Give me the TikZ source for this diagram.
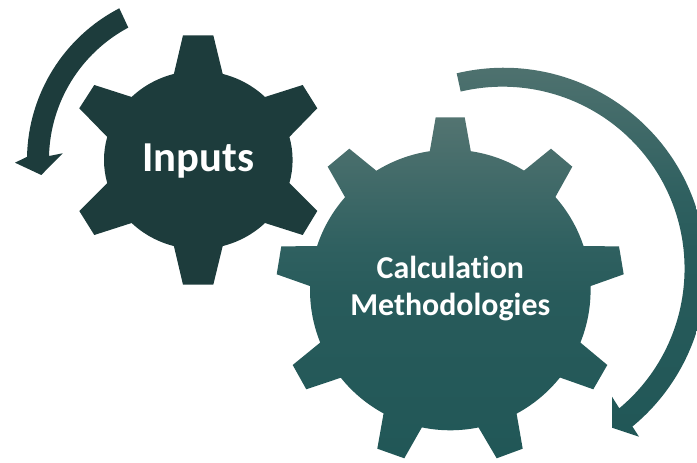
\documentclass[tikz,border=0pt]{standalone}
\usepackage{fontspec}
\setmainfont[RawFeature={-liga;-clig;-dlig}]{Carlito}
\definecolor{gearDark}{HTML}{1D3C3C}
\definecolor{tealA}{RGB}{33,87,87}
\definecolor{tealB}{RGB}{40,91,91}
\definecolor{tealC}{RGB}{47,96,96}
\definecolor{tealD}{RGB}{83,116,113}
\pgfdeclareverticalshading{tealgrad}{100bp}{
  color(0bp)=(tealA);
  color(25bp)=(tealA);
  color(49bp)=(tealB);
  color(56bp)=(tealC);
  color(75bp)=(tealD);
  color(100bp)=(tealD)}
\tikzset{
  darkshape/.style={fill=gearDark,draw=none},
  tealshape/.style={draw=none,shade,shading=tealgrad},
  gearlabel/.style={text=white,font=\bfseries,align=center,inner sep=0pt}
}
\begin{document}
\begin{tikzpicture}[x=0.75pt,y=-0.75pt]
\useasboundingbox (0,0) rectangle (697,463);
\clip (0,0) rectangle (697,463);
% small gear
\begin{scope}[shift={(198.3,160)}]
\fill[darkshape] (-75:94.3 and 89.1)
  arc[start angle=-75,end angle=-45,x radius=94.3,y radius=89.1]
  -- (104.4,-75) -- (119,-51.7) -- (-15:94.3 and 89.1)
  arc[start angle=-15,end angle=15,x radius=94.3,y radius=89.1]
  -- (119,51) -- (104.4,75) -- (45:94.3 and 89.1)
  arc[start angle=45,end angle=75,x radius=94.3,y radius=89.1]
  -- (15,124.7) -- (-15.3,124.7) -- (105:94.3 and 89.1)
  arc[start angle=105,end angle=135,x radius=94.3,y radius=89.1]
  -- (-104,75) -- (-119,51) -- (165:94.3 and 89.1)
  arc[start angle=165,end angle=195,x radius=94.3,y radius=89.1]
  -- (-119,-51.7) -- (-104,-75) -- (225:94.3 and 89.1)
  arc[start angle=225,end angle=255,x radius=94.3,y radius=89.1]
  -- (-15.3,-124.7) -- (15,-124.7) -- cycle;
\end{scope}
% small arrow
\fill[darkshape] (119.3,8.3)
  arc[start angle=242.6,end angle=181.1,radius=171]
  -- (15,162.7) -- (41.3,175) -- (62.7,153.3) -- (49,156)
  arc[start angle=181.5,end angle=241.9,radius=150] -- cycle;
% big gear
\begin{scope}[shift={(450.3,290)}]
\path[tealshape] (-81.6:140.3)
  arc[start angle=-81.6,end angle=-58.3,radius=140.3]
  -- (100.7,-141.3) -- (122,-123.3) -- (-41.5:140.3)
  arc[start angle=-41.5,end angle=-18.2,radius=140.3]
  -- (168.7,-43.7) -- (173.4,-15.7) -- (-1.6:140.3)
  arc[start angle=-1.6,end angle=22,radius=140.3]
  -- (157,75) -- (143,99.3) -- (38.6:140.3)
  arc[start angle=38.6,end angle=61.8,radius=140.3]
  -- (72.4,158.7) -- (46.4,168.3) -- (78.4:140.3)
  arc[start angle=78.4,end angle=101.7,radius=140.3]
  -- (-46,168.3) -- (-73,158.7) -- (118.4:140.3)
  arc[start angle=118.4,end angle=141.3,radius=140.3]
  -- (-144,99.3) -- (-157.6,75) -- (158:140.3)
  arc[start angle=158,end angle=181.6,radius=140.3]
  -- (-173.6,-15.7) -- (-169,-43.7) -- (198.2:140.3)
  arc[start angle=198.2,end angle=221.4,radius=140.3]
  -- (-122.6,-123.3) -- (-101,-141.3) -- (238.2:140.3)
  arc[start angle=238.2,end angle=261.6,radius=140.3]
  -- (-14.6,-172.7) -- (14.4,-172.7) -- cycle;
\end{scope}
% big arrow
\path[tealshape] (456.7,73.3)
  arc[start angle=-103.4,end angle=50.5,radius=202.5]
  -- (639,436.7) -- (612,427.7) -- (612,396.7) -- (619.3,408.3)
  arc[start angle=50.1,end angle=-103.3,radius=182] -- cycle;
% labels
\node[gearlabel,font=\bfseries\fontsize{32}{36}\selectfont] (inputs) at (198.3,161.5) {Inputs};
\node[gearlabel,font=\bfseries\fontsize{23.9}{27.8}\selectfont] (calc) at (450.3,288.5) {Calculation\\Methodologies};
\end{tikzpicture}
\end{document}
